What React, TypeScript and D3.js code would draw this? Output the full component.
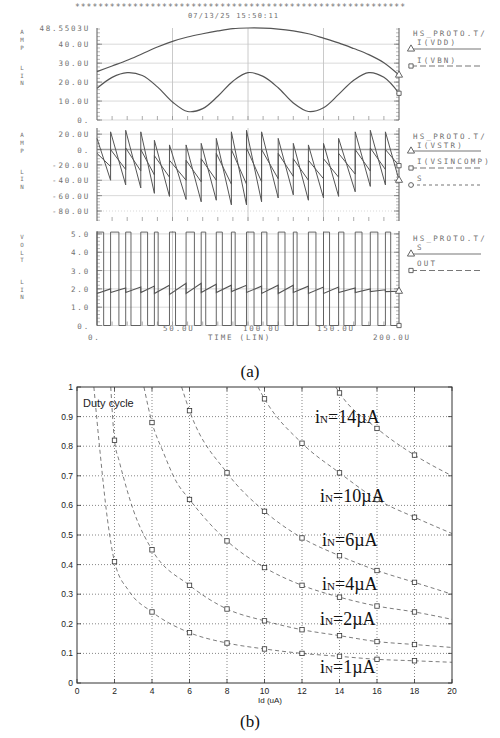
import React from "react";
import * as d3 from "d3";

// ---------- (a) transient traces: time in µs, currents in µA, volts ----------
const timeTicks = [0, 50, 100, 150, 200];
const timeLabels = ["0.", "50.0U", "100.0U", "150.0U", "200.0U"];

const slowTime = [0, 10, 20, 30, 40, 50, 60, 70, 80, 90, 100, 110, 120, 130, 140, 150, 160, 170, 180, 190, 200];
const iVdd = [25.5, 28.5, 31.5, 35, 38.5, 41.5, 43.8, 45.5, 47, 48.2, 48.55, 48.5, 48, 47, 45.5, 43.2, 40.7, 37.7, 34.5, 30.2, 23.7];
const iVbn = [16.7, 22.5, 25, 23.5, 17.5, 9.5, 4.5, 6, 12.5, 20.5, 25, 23, 17, 9, 4.5, 6.5, 13.5, 21, 25, 22.5, 14.1];

// sawtooth resets
const resetTime = [0, 9, 19, 29, 38, 48, 59, 69, 79, 89, 99, 109, 120, 130, 140, 150, 160, 171, 181, 191, 200];
const iVstrPeak = [14.5, 23, 25, 23, 12, 6, 6, 8, 14.5, 23, 25, 23, 14.5, 8, 6, 8, 14.5, 23, 25, 23];
const iVstrValley = [-40, -46, -50, -57, -61, -65, -68, -66, -72, -72, -68, -63, -59, -66, -63, -61, -55, -48, -46, -40];
const iVsinPeak = [-5, 0, 2, 0, -8, -14, -14, -12, -5, 0, 2, 0, -5, -12, -14, -12, -5, 0, 2, 0];
const iVsinValley = [-22, -26, -28, -33, -36, -40, -42, -40, -45, -45, -42, -38, -35, -40, -38, -36, -32, -28, -26, -21];
const sLow = [1.75, 1.8, 1.8, 1.8, 1.75, 1.7, 1.75, 1.8, 1.8, 1.85, 1.8, 1.75, 1.75, 1.8, 1.75, 1.75, 1.8, 1.8, 1.85, 1.85];
const sHigh = [2.0, 2.05, 2.1, 2.15, 2.2, 2.3, 2.3, 2.25, 2.2, 2.2, 2.15, 2.2, 2.2, 2.15, 2.1, 2.1, 2.05, 2.0, 1.95, 1.87];
const outWidth = [4.4, 5.5, 3.5, 4.5, 2.5, 4, 5.5, 3, 4, 2.5, 5, 3.5, 4.5, 2.5, 5, 4, 3.5, 4.5, 5, 3.5];
const outLevel = 5.1;

const ampTicks1 = [0, 10, 20, 30, 40];
const ampTicks2 = [20, 0, -20, -40, -60, -80];
const voltTicks = [0, 1, 2, 3, 4, 5];

// ---------- (b) duty cycle vs Id ----------
const idTicks = [0, 2, 4, 6, 8, 10, 12, 14, 16, 18, 20];
const dutyTicks = [0, 0.1, 0.2, 0.3, 0.4, 0.5, 0.6, 0.7, 0.8, 0.9, 1];
const inNames = ["1", "2", "4", "6", "10", "14"];

const markId1 = [2, 4, 6, 8, 10, 12, 14, 16, 18];
const markDuty1 = [0.41, 0.24, 0.17, 0.135, 0.115, 0.1, 0.09, 0.08, 0.075];
const markId2 = [2, 4, 6, 8, 10, 12, 14, 16, 18];
const markDuty2 = [0.82, 0.45, 0.33, 0.25, 0.21, 0.18, 0.16, 0.14, 0.13];
const markId4 = [4, 6, 8, 10, 12, 14, 16, 18];
const markDuty4 = [0.88, 0.62, 0.48, 0.39, 0.33, 0.29, 0.26, 0.24];
const markId6 = [6, 8, 10, 12, 14, 16, 18];
const markDuty6 = [0.92, 0.71, 0.58, 0.49, 0.43, 0.38, 0.34];
const markId10 = [10, 12, 14, 16, 18];
const markDuty10 = [0.96, 0.81, 0.71, 0.62, 0.56];
const markId14 = [14, 16, 18];
const markDuty14 = [0.98, 0.86, 0.77];

// fitted (dashed) curves
const fitId1 = [0.9, 1.23, 1.62, 2, 2.78, 4, 6, 8, 10, 12, 14, 16, 18, 20];
const fitDuty1 = [1.0, 0.78, 0.555, 0.41, 0.31, 0.24, 0.17, 0.135, 0.115, 0.1, 0.09, 0.08, 0.075, 0.07];
const fitId2 = [1.8, 2, 2.25, 2.5, 3, 4, 6, 8, 10, 12, 14, 16, 18, 20];
const fitDuty2 = [1.0, 0.82, 0.75, 0.69, 0.585, 0.45, 0.33, 0.25, 0.21, 0.18, 0.16, 0.14, 0.13, 0.12];
const fitId4 = [3.57, 4, 4.6, 5.3, 6, 8, 10, 12, 14, 16, 18, 20];
const fitDuty4 = [1.0, 0.88, 0.78, 0.68, 0.62, 0.48, 0.39, 0.33, 0.29, 0.26, 0.24, 0.215];
const fitId6 = [5.58, 6, 8, 10, 12, 14, 16, 18, 20];
const fitDuty6 = [1.0, 0.92, 0.71, 0.58, 0.49, 0.43, 0.38, 0.34, 0.3];
const fitId10 = [9.65, 10, 12, 14, 16, 18, 20];
const fitDuty10 = [1.0, 0.96, 0.81, 0.71, 0.62, 0.56, 0.505];
const fitId14 = [13.8, 14, 16, 18, 20];
const fitDuty14 = [1.0, 0.98, 0.86, 0.77, 0.7];

const zip = (a: number[], b: number[]) => a.map((v, i) => [v, b[i]] as [number, number]);

const curves = [
  { name: inNames[0], marks: zip(markId1, markDuty1), fit: zip(fitId1, fitDuty1), lx: 320, ly: 673 },
  { name: inNames[1], marks: zip(markId2, markDuty2), fit: zip(fitId2, fitDuty2), lx: 320, ly: 625 },
  { name: inNames[2], marks: zip(markId4, markDuty4), fit: zip(fitId4, fitDuty4), lx: 322, ly: 590 },
  { name: inNames[3], marks: zip(markId6, markDuty6), fit: zip(fitId6, fitDuty6), lx: 322, ly: 546 },
  { name: inNames[4], marks: zip(markId10, markDuty10), fit: zip(fitId10, fitDuty10), lx: 320, ly: 502 },
  { name: inNames[5], marks: zip(markId14, markDuty14), fit: zip(fitId14, fitDuty14), lx: 315, ly: 423 },
];

const MONO = "'DejaVu Sans Mono', monospace";
const TXT = "#707070";
const WAVE = "#555";
const SANS = "'Liberation Sans', Arial, sans-serif";
const SERIF = "'Liberation Serif', 'Times New Roman', serif";

const sym = (type: d3.SymbolType, size: number) => d3.symbol().type(type).size(size)() as string;

export default function App() {
  const x = d3.scaleLinear().domain([0, 200]).range([97, 399]);
  const y1 = d3.scaleLinear().domain([0, 48.55]).range([120, 28]);
  const y2 = d3.scaleLinear().domain([-93, 28]).range([221, 128]);
  const y3 = d3.scaleLinear().domain([0, 5.16]).range([325.5, 231]);

  const ampFmt = (v: number) => (v === 0 ? "0." : v.toFixed(1) + "U");
  const voltFmt = (v: number) => (v === 0 ? "0." : v.toFixed(1));

  const panels = [
    {
      y: y1, ticks: ampTicks1, fmt: ampFmt, minor: 2, topLabel: "48.5503U",
      letters: ["A", "M", "P", "L", "I", "N"], letterY: [32, 40, 48, 68, 75.5, 83],
    },
    {
      y: y2, ticks: ampTicks2, fmt: ampFmt, minor: 4, topLabel: "",
      letters: ["A", "M", "P", "L", "I", "N"], letterY: [135, 143, 151, 171.5, 179, 186.5],
    },
    {
      y: y3, ticks: voltTicks, fmt: voltFmt, minor: 0.2, topLabel: "",
      letters: ["V", "O", "L", "T", "L", "I", "N"], letterY: [237, 245, 252.5, 260, 282, 289.5, 297],
    },
  ];

  const saw = (peak: number[], valley: number[]) =>
    peak.flatMap((p, i) => [[resetTime[i], p], [resetTime[i + 1], valley[i]]] as [number, number][]);
  const pulses = outWidth
    .flatMap((w, i) => [
      [resetTime[i], 0], [resetTime[i], outLevel], [resetTime[i] + w, outLevel], [resetTime[i] + w, 0],
    ] as [number, number][])
    .concat([[200, 0]]);

  const mk = (y: d3.ScaleLinear<number, number>, curve: d3.CurveFactory = d3.curveLinear) =>
    d3.line<[number, number]>().x((d) => x(d[0])).y((d) => y(d[1])).curve(curve);

  const vddPts = zip(slowTime, iVdd);
  const vbnPts = zip(slowTime, iVbn);
  const vstrPts = saw(iVstrPeak, iVstrValley);
  const vsinPts = saw(iVsinPeak, iVsinValley);
  const sPts = saw(sLow, sHigh);

  const tri = sym(d3.symbolTriangle, 22);
  const sq = sym(d3.symbolSquare, 18);
  const circ = sym(d3.symbolCircle, 18);

  const legends = [
    { head: 36, items: [
      { name: "I(VDD)", ty: 45, ly: 49, sym: tri, dash: "" },
      { name: "I(VBN)", ty: 62.5, ly: 66, sym: sq, dash: "6,3" },
    ] },
    { head: 138.5, items: [
      { name: "I(VSTR)", ty: 147.5, ly: 151, sym: tri, dash: "" },
      { name: "I(VSINCOMP)", ty: 164, ly: 168, sym: sq, dash: "6,3" },
      { name: "S", ty: 181, ly: 185, sym: circ, dash: "3,3" },
    ] },
    { head: 241, items: [
      { name: "S", ty: 249.5, ly: 254, sym: tri, dash: "" },
      { name: "OUT", ty: 266, ly: 270.5, sym: sq, dash: "6,3" },
    ] },
  ];

  const endMarks = [
    { p: vddPts[vddPts.length - 1], y: y1, s: tri },
    { p: vbnPts[vbnPts.length - 1], y: y1, s: sq },
    { p: vstrPts[vstrPts.length - 1], y: y2, s: tri },
    { p: vsinPts[vsinPts.length - 1], y: y2, s: sq },
    { p: sPts[sPts.length - 1], y: y3, s: tri },
    { p: pulses[pulses.length - 1], y: y3, s: sq },
  ];

  const timeLabelX = [88, 163, 243, 317, 373];
  const timeLabelY = [340, 331, 331, 331, 340];

  // (b)
  const xb = d3.scaleLinear().domain([0, 20]).range([77, 452]);
  const yb = d3.scaleLinear().domain([0, 1]).range([683, 387]);
  const fitLine = d3.line<[number, number]>().x((d) => xb(d[0])).y((d) => yb(d[1])).curve(d3.curveMonotoneX);

  return (
    <svg width={500} height={738} style={{ position: "absolute", left: 0, top: 0, background: "#fff" }}>
      {/* ---------------- (a) ---------------- */}
      <text x={75} y={10} fontFamily={MONO} fontSize={8} fill={TXT} textLength={330} lengthAdjust="spacing">
        {"*".repeat(57)}
      </text>
      <text x={188} y={17.5} fontFamily={MONO} fontSize={7} fill={TXT} textLength={90} lengthAdjust="spacing">
        07/13/25 15:50:11
      </text>

      {panels.map((pn, k) => {
        const [lo, hi] = pn.y.domain();
        const top = pn.y(hi);
        const bot = pn.y(lo);
        const minors = d3.range(Math.ceil(lo / pn.minor) * pn.minor, hi, pn.minor);
        return (
          <g key={k}>
            {pn.ticks.map((t) => (
              <line key={"g" + t} x1={97} x2={399} y1={pn.y(t)} y2={pn.y(t)}
                stroke={k === 1 && t === 0 ? "#a0a0a0" : "#cfcfcf"} strokeWidth={k === 1 && t === 0 ? 1.6 : 0.8}
                strokeDasharray={k === 1 && t === -80 ? "1,2" : ""} />
            ))}
            {[50, 100, 150].map((t) => (
              <line key={"v" + t} x1={x(t)} x2={x(t)} y1={top} y2={bot} stroke="#c4c4c4" strokeWidth={0.9} />
            ))}
            {minors.map((m, i) => (
              <g key={"m" + i} stroke="#8a8a8a" strokeWidth={0.6}>
                <line x1={97} x2={100} y1={pn.y(m)} y2={pn.y(m)} />
                <line x1={396} x2={399} y1={pn.y(m)} y2={pn.y(m)} />
              </g>
            ))}
            {pn.ticks.map((t) => (
              <g key={"t" + t} stroke="#777" strokeWidth={0.8}>
                <line x1={97} x2={102} y1={pn.y(t)} y2={pn.y(t)} />
                <line x1={394} x2={399} y1={pn.y(t)} y2={pn.y(t)} />
              </g>
            ))}
            {d3.range(10, 200, 10).map((t) => (
              <line key={"b" + t} x1={x(t)} x2={x(t)} y1={bot - 4} y2={bot} stroke="#888" strokeWidth={0.7} />
            ))}
            <line x1={97} x2={97} y1={top} y2={bot} stroke="#6a6a6a" strokeWidth={1.1} />
            <line x1={399} x2={399} y1={top} y2={bot} stroke="#6a6a6a" strokeWidth={1.1} />
            {pn.ticks.map((t) => (
              <text key={"l" + t} x={90} y={pn.y(t) + 3} textAnchor="end" fontFamily={MONO} fontSize={7.5}
                fill={TXT} letterSpacing={1.8}>
                {pn.fmt(t)}
              </text>
            ))}
            {pn.topLabel && (
              <text x={90} y={top + 3} textAnchor="end" fontFamily={MONO} fontSize={7.5} fill={TXT} letterSpacing={1.8}>
                {pn.topLabel}
              </text>
            )}
            {pn.letters.map((c, i) => (
              <text key={"c" + i} x={22} y={pn.letterY[i] + 2.2} textAnchor="middle" fontFamily={MONO}
                fontSize={5.8} fill={TXT}>
                {c}
              </text>
            ))}
          </g>
        );
      })}

      {/* traces */}
      <g fill="none" stroke={WAVE} strokeWidth={1.2}>
        <path d={mk(y1, d3.curveCatmullRom)(vddPts) as string} />
        <path d={mk(y1, d3.curveCatmullRom)(vbnPts) as string} />
        <path d={mk(y2)(vstrPts) as string} strokeWidth={1} />
        <path d={mk(y2)(vsinPts) as string} strokeWidth={1} />
        <path d={mk(y3)(pulses) as string} strokeWidth={0.9} />
        <path d={mk(y3)(sPts) as string} strokeWidth={1.1} />
      </g>
      {endMarks.map((m, i) => (
        <path key={i} d={m.s} transform={`translate(${x(m.p[0])},${m.y(m.p[1])})`} fill="#fff" stroke="#555" strokeWidth={0.9} />
      ))}

      {/* time axis labels */}
      {timeTicks.map((t, i) => (
        <text key={t} x={timeLabelX[i]} y={timeLabelY[i]} fontFamily={MONO} fontSize={7.5} fill={TXT} letterSpacing={1.8}>
          {timeLabels[i]}
        </text>
      ))}
      <text x={208} y={340} fontFamily={MONO} fontSize={7.5} fill={TXT} letterSpacing={1.8}>TIME (LIN)</text>

      {/* legends */}
      {legends.map((lg, k) => (
        <g key={k} fontFamily={MONO} fontSize={7.5} fill={TXT} letterSpacing={2.2}>
          <text x={413} y={lg.head}>HS_PROTO.T/</text>
          {lg.items.map((it) => (
            <g key={it.name}>
              <text x={417} y={it.ty}>{it.name}</text>
              <line x1={411} x2={481} y1={it.ly} y2={it.ly} stroke="#777" strokeWidth={1.1} strokeDasharray={it.dash} />
              <path d={it.sym} transform={`translate(${411},${it.ly})`} fill="#fff" stroke="#555" strokeWidth={0.9} />
            </g>
          ))}
        </g>
      ))}

      <text x={250} y={377} textAnchor="middle" fontFamily={SERIF} fontSize={17} fill="#111">(a)</text>

      {/* ---------------- (b) ---------------- */}
      <g>
        {idTicks.slice(1, -1).map((t) => (
          <line key={"gx" + t} x1={xb(t)} x2={xb(t)} y1={yb(0)} y2={yb(1)} stroke="#555" strokeWidth={0.7} strokeDasharray="1,2" />
        ))}
        {dutyTicks.slice(1, -1).map((t) => (
          <line key={"gy" + t} x1={xb(0)} x2={xb(20)} y1={yb(t)} y2={yb(t)} stroke="#555" strokeWidth={0.7} strokeDasharray="1,2" />
        ))}
        {idTicks.map((t) => (
          <g key={"tx" + t} stroke="#333" strokeWidth={0.8}>
            <line x1={xb(t)} x2={xb(t)} y1={yb(0)} y2={yb(0) - 4} />
            <line x1={xb(t)} x2={xb(t)} y1={yb(1)} y2={yb(1) + 4} />
          </g>
        ))}
        {dutyTicks.map((t) => (
          <g key={"ty" + t} stroke="#333" strokeWidth={0.8}>
            <line x1={xb(0)} x2={xb(0) + 4} y1={yb(t)} y2={yb(t)} />
            <line x1={xb(20)} x2={xb(20) - 4} y1={yb(t)} y2={yb(t)} />
          </g>
        ))}
        <rect x={xb(0)} y={yb(1)} width={xb(20) - xb(0)} height={yb(0) - yb(1)} fill="none" stroke="#333" strokeWidth={1} />

        {idTicks.map((t) => (
          <text key={"lx" + t} x={xb(t)} y={694} textAnchor="middle" fontFamily={SANS} fontSize={8.5} fill="#222">
            {t}
          </text>
        ))}
        {dutyTicks.map((t) => (
          <text key={"ly" + t} x={73} y={yb(t) + 3} textAnchor="end" fontFamily={SANS} fontSize={8.5} fill="#222">
            {t}
          </text>
        ))}
        <text x={270} y={703} textAnchor="middle" fontFamily={SANS} fontSize={8} fill="#222">
          Id (uA)
        </text>
        <text x={83} y={407} fontFamily={SANS} fontSize={11} fill="#222">
          Duty cycle
        </text>

        {curves.map((c) => (
          <g key={c.name}>
            <path d={fitLine(c.fit) as string} fill="none" stroke="#444" strokeWidth={0.7} strokeDasharray="4,3" />
            {c.marks.map((m, i) => (
              <rect key={i} x={xb(m[0]) - 2.2} y={yb(m[1]) - 2.2} width={4.4} height={4.4} fill="#fff" stroke="#333" strokeWidth={0.8} />
            ))}
            <text x={c.lx} y={c.ly} fontFamily={SERIF} fontSize={18} fill="#111">
              i<tspan fontSize={11}>N</tspan>={c.name}µA
            </text>
          </g>
        ))}
      </g>

      <text x={250} y={727} textAnchor="middle" fontFamily={SERIF} fontSize={17} fill="#111">(b)</text>
    </svg>
  );
}
